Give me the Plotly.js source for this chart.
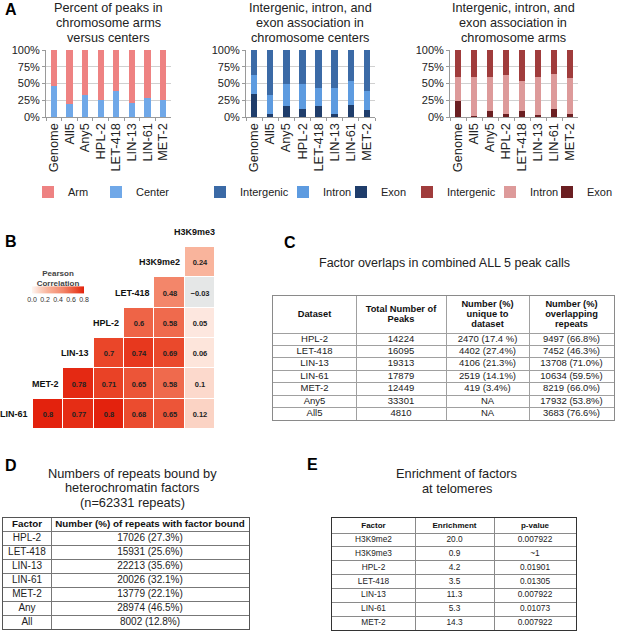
<!DOCTYPE html>
<html><head><meta charset="utf-8">
<script src="https://cdn.plot.ly/plotly-3.0.1.min.js"></script>
<style>body{margin:0;padding:0;background:#fff}#chart{width:617px;height:632px}</style>
</head><body><div id="chart"></div>
<script>
// ---------- Panel A data ----------
const cats = ['Genome','All5','Any5','HPL-2','LET-418','LIN-13','LIN-61','MET-2'];
const pctCenter = [47,19,33,25,39,21,29,26];
const pctArm    = [53,81,67,75,61,79,71,74];
const cenExon       = [34,5,17,12,17,4,18,11];
const cenIntron     = [28,28,33,38,27,40,35,28];
const cenIntergenic = [38,67,50,50,56,56,47,61];
const armExon       = [24,2,9,5,9,3,12,5];
const armIntron     = [36,57,51,57,45,56,52,53];
const armIntergenic = [40,41,40,38,46,41,36,42];
const yTicks = [0,25,50,75,100];
const yTickText = ['0%','25%','50%','75%','100%'];

// ---------- Panel B data ----------
const hmCols = ['MET-2','LIN-13','HPL-2','LET-418','H3K9me2','H3K9me3'];
const hmRows = ['H3K9me2','LET-418','HPL-2','LIN-13','MET-2','LIN-61'];
const corr = [
  [null,null,null,null,null,0.24],
  [null,null,null,null,0.48,-0.03],
  [null,null,null,0.6,0.58,0.05],
  [null,null,0.7,0.74,0.69,0.06],
  [null,0.78,0.71,0.65,0.58,0.1],
  [0.8,0.77,0.8,0.68,0.65,0.12]
];
const cbTicks = [0,0.2,0.4,0.6,0.8];

// ---------- Panel C data ----------
const cHeader = ['Dataset','Total Number of<br>Peaks','Number (%)<br>unique to<br>dataset','Number (%)<br>overlapping<br>repeats'];
const cDataset = ['HPL-2','LET-418','LIN-13','LIN-61','MET-2','Any5','All5'];
const cTotal   = ['14224','16095','19313','17879','12449','33301','4810'];
const cUnique  = ['2470 (17.4 %)','4402 (27.4%)','4106 (21.3%)','2519 (14.1%)','419 (3.4%)','NA','NA'];
const cRepeats = ['9497 (66.8%)','7452 (46.3%)','13708 (71.0%)','10634 (59.5%)','8219 (66.0%)','17932 (53.8%)','3683 (76.6%)'];

// ---------- Panel D data ----------
const dHeader = ['Factor','Number (%) of repeats with factor bound'];
const dFactor = ['HPL-2','LET-418','LIN-13','LIN-61','MET-2','Any','All'];
const dBound  = ['17026 (27.3%)','15931 (25.6%)','22213 (35.6%)','20026 (32.1%)','13779 (22.1%)','28974 (46.5%)','8002 (12.8%)'];

// ---------- Panel E data ----------
const eHeader = ['Factor','Enrichment','p-value'];
const eFactor = ['H3K9me2','H3K9me3','HPL-2','LET-418','LIN-13','LIN-61','MET-2'];
const eEnrich = ['20.0','0.9','4.2','3.5','11.3','5.3','14.3'];
const ePval   = ['0.007922','~1','0.01901','0.01305','0.007922','0.01073','0.007922'];

const FONT = 'Liberation Sans, Arial, sans-serif';
const W = 617, H = 632;
const px = v => v / W;
const py = v => 1 - v / H;

const traces = [];
const layout = {
  width:W, height:H, margin:{l:0,r:0,t:0,b:0,autoexpand:false}, paper_bgcolor:'#fff', plot_bgcolor:'rgba(0,0,0,0)',
  barmode:'stack', bargap:0.6, showlegend:true, font:{family:FONT, color:'#222'}, annotations:[]
};
const annotations = layout.annotations;

// ================= Panel A: stacked bars =================
function bar(y, name, color, xa, ya, lg) {
  return {type:'bar', x:cats, y:y, name:name, marker:{color:color}, xaxis:xa, yaxis:ya,
          legend:lg, hoverinfo:'skip'};
}
traces.push(
  bar(pctCenter,'Center','#70a8e8','x','y','legend2'),
  bar(pctArm,'Arm','#ee8282','x','y','legend'),
  bar(cenExon,'Exon','#1f3d6b','x2','y2','legend5'),
  bar(cenIntron,'Intron','#5d9be0','x2','y2','legend4'),
  bar(cenIntergenic,'Intergenic','#3b6aa6','x2','y2','legend3'),
  bar(armExon,'Exon','#6b1f22','x3','y3','legend8'),
  bar(armIntron,'Intron','#dd9a9a','x3','y3','legend7'),
  bar(armIntergenic,'Intergenic','#a03c3c','x3','y3','legend6')
);
function xax(d0, d1, anchor) {
  return {domain:[px(d0),px(d1)], anchor:anchor, type:'category', tickangle:-90,
    tickmode:'linear', tick0:0, dtick:1,
    tickfont:{size:12.8, family:FONT, color:'#222'}, showline:true, linecolor:'#9a9a9a',
    ticks:'outside', tickson:'boundaries', ticklen:3, tickcolor:'#9a9a9a', fixedrange:true};
}
function yax(anchor) {
  return {domain:[py(117),py(50)], anchor:anchor, range:[0,100], tickvals:yTicks, ticktext:yTickText,
    tickfont:{size:11, family:FONT, color:'#222'}, showgrid:true, gridcolor:'#d0d0d0',
    showline:true, linecolor:'#9a9a9a', ticks:'outside', ticklen:3, tickcolor:'#9a9a9a', zeroline:false, fixedrange:true};
}
Object.assign(layout, {
  xaxis:xax(46,171,'y'), yaxis:yax('x'),
  xaxis2:xax(246,375,'y2'), yaxis2:yax('x2'),
  xaxis3:xax(450,578,'y3'), yaxis3:yax('x3')
});
// one legend per entry; the square's centre lies 20px right of the legend's x
function legendAt(x) {
  return {orientation:'h', x:px(x - 20), xanchor:'left', y:py(192), yanchor:'middle',
    font:{size:11, family:FONT, color:'#222'}, bgcolor:'rgba(0,0,0,0)', itemwidth:30, borderwidth:0};
}
Object.assign(layout, {
  legend:legendAt(48), legend2:legendAt(116),
  legend3:legendAt(220), legend4:legendAt(303), legend5:legendAt(361),
  legend6:legendAt(427), legend7:legendAt(510), legend8:legendAt(567)
});

// ================= Panel B: correlation heatmap =================
const corrPos = corr.map(r => r.map(v => (v === null || v < 0) ? null : v));
const corrNeg = corr.map(r => r.map(v => (v !== null && v < 0) ? v : null));
traces.push({
  type:'heatmap', x:hmCols, y:hmRows, z:corrPos, xaxis:'x4', yaxis:'y4',
  zmin:0, zmax:0.8, xgap:1, ygap:1, hoverinfo:'skip',
  colorscale:[[0,'#fff6f2'],[0.15,'#fbd3c4'],[0.3,'#f9b49c'],[0.6,'#f3866a'],[0.75,'#ee6447'],[0.875,'#ea4629'],[1,'#e3220d']],
  texttemplate:'<b>%{z}</b>', textfont:{size:7.5, color:'#222', family:FONT},
  colorbar:{orientation:'h', x:px(58), xanchor:'center', y:py(267), yanchor:'top',
    len:52, lenmode:'pixels', thickness:7, outlinewidth:0, xpad:0, ypad:0,
    tickvals:cbTicks, ticktext:cbTicks.map(v=>v.toFixed(1)), ticks:'', tickfont:{size:7, family:FONT, color:'#333'},
    title:{text:'<b>Pearson<br>Correlation</b>', side:'top', font:{size:8, family:FONT, color:'#444'}}}
});
traces.push({
  type:'heatmap', x:hmCols, y:hmRows, z:corrNeg, xaxis:'x4', yaxis:'y4',
  zmin:-0.1, zmax:0, xgap:1, ygap:1, hoverinfo:'skip', showscale:false,
  colorscale:[[0,'#e2e5e5'],[1,'#e6e8e8']],
  texttemplate:'<b>%{z}</b>', textfont:{size:7.5, color:'#222', family:FONT}
});
const hmAxis = {showticklabels:false, showgrid:false, zeroline:false, showline:false, ticks:'', fixedrange:true, autorange:false};
layout.xaxis4 = Object.assign({domain:[px(33),px(215)], anchor:'y4', type:'category', range:[-0.5, hmCols.length-0.5]}, hmAxis);
layout.yaxis4 = Object.assign({domain:[py(429),py(247)], anchor:'x4', type:'category', range:[hmRows.length-0.5, -0.5]}, hmAxis);
hmRows.forEach((r,i) => {
  const j = corr[i].findIndex(v => v !== null);
  annotations.push({xref:'x4', yref:'y4', x:hmCols[j], y:r, text:'<b>'+r+'</b>', showarrow:false,
    xanchor:'right', xshift:-18, font:{size:9, family:FONT, color:'#111'}});
});
annotations.push({xref:'x4', yref:'y4', x:hmCols[hmCols.length-1], y:hmRows[0], text:'<b>H3K9me3</b>',
  showarrow:false, yshift:30, xshift:-5, font:{size:9, family:FONT, color:'#111'}});

// ================= Tables (C, D, E) drawn on hidden axes =================
// colW / rowH are pixel sizes (style); text comes from the data arrays above.
function gridTable(n, box, colW, hdrH, rowH, header, columns, st) {
  const totW = colW.reduce((a,b)=>a+b,0);
  const totH = hdrH + rowH * columns[0].length;
  const xB = [], xC = [];
  let acc = 0;
  colW.forEach((w,j) => { xC.push(acc + w/2); acc += w; if (j < colW.length-1) xB.push(acc); });
  const yB = [hdrH];
  for (let i = 1; i < columns[0].length; i++) yB.push(hdrH + i*rowH);
  const common = {showticklabels:false, ticks:'', zeroline:false, showgrid:true, gridcolor:st.inner, gridwidth:1,
    showline:true, mirror:true, linecolor:st.outer, linewidth:1, fixedrange:true};
  layout['xaxis'+n] = Object.assign({domain:[px(box[0]),px(box[1])], anchor:'y'+n, range:[0,totW], tickvals:xB}, common);
  layout['yaxis'+n] = Object.assign({domain:[py(box[3]),py(box[2])], anchor:'x'+n, range:[totH,0], tickvals:yB}, common);
  const hx = [], hy = [], ht = [];
  header.forEach((h,j) => {
    const lines = h.split('<br>');
    lines.forEach((ln,k) => {
      hx.push(xC[j]); hy.push(hdrH/2 + (k - (lines.length-1)/2) * st.hdrStep); ht.push('<b>'+ln+'</b>');
    });
  });
  traces.push({type:'scatter', mode:'text', x:hx, y:hy, text:ht, xaxis:'x'+n, yaxis:'y'+n,
    textfont:{size:st.hdrSize, family:FONT, color:'#111'}, textposition:'middle center',
    hoverinfo:'skip', showlegend:false, cliponaxis:false});
  const bx = [], by = [], bt = [];
  columns.forEach((col,j) => col.forEach((v,i) => { bx.push(xC[j]); by.push(hdrH + (i+0.5)*rowH); bt.push(v); }));
  traces.push({type:'scatter', mode:'text', x:bx, y:by, text:bt, xaxis:'x'+n, yaxis:'y'+n,
    textfont:{size:st.size, family:FONT, color:'#222'}, textposition:'middle center',
    hoverinfo:'skip', showlegend:false, cliponaxis:false});
}
gridTable(5, [273,614,296,420], [83,90,83,85], 37, 12.43, cHeader, [cDataset,cTotal,cUnique,cRepeats],
  {inner:'#a0a0a0', outer:'#8a8a8a', hdrSize:9.3, hdrStep:10, size:9.5});
gridTable(6, [3,249,518,629], [48,198], 13.3, 13.9, dHeader, [dFactor,dBound],
  {inner:'#777', outer:'#555', hdrSize:9.8, hdrStep:11, size:10});
gridTable(7, [332,576,518,630], [83,79,82], 15, 13.86, eHeader, [eFactor,eEnrich,ePval],
  {inner:'#8a8a8a', outer:'#333', hdrSize:8, hdrStep:10, size:8.3});

// ================= Text: panel letters and titles =================
function txt(x, y, text, size, opts) {
  annotations.push(Object.assign({xref:'paper', yref:'paper', x:px(x), y:py(y), text:text, showarrow:false,
    font:{size:size, family:FONT, color:'#222'}, xanchor:'center', yanchor:'middle'}, opts||{}));
}
function lines(x, y0, step, arr, size) { arr.forEach((t,k) => txt(x, y0 + k*step, t, size)); }
const LET = {size:16, family:FONT, color:'#000'};
txt(3,10,'<b>A</b>',16,{xanchor:'left', font:LET});
txt(3,241,'<b>B</b>',16,{xanchor:'left', font:LET});
txt(282,242,'<b>C</b>',16,{xanchor:'left', font:LET});
txt(3,465,'<b>D</b>',16,{xanchor:'left', font:LET});
txt(305,464,'<b>E</b>',16,{xanchor:'left', font:LET});
lines(108, 8.5, 15, ['Percent of peaks in','chromosome arms','versus centers'], 12.7);
lines(310, 8.5, 15, ['Intergenic, intron, and','exon association in','chromosome centers'], 12.7);
lines(513, 8.5, 15, ['Intergenic, intron, and','exon association in','chromosome arms'], 12.7);
txt(445,263,'Factor overlaps in combined ALL 5 peak calls',12.5);
lines(132, 473, 14.8, ['Numbers of repeats bound by','heterochromatin factors','(n=62331 repeats)'], 12.8);
lines(457, 473, 15, ['Enrichment of factors','at telomeres'], 12.8);

Plotly.newPlot('chart', traces, layout, {staticPlot:true, displayModeBar:false});
</script></body></html>
